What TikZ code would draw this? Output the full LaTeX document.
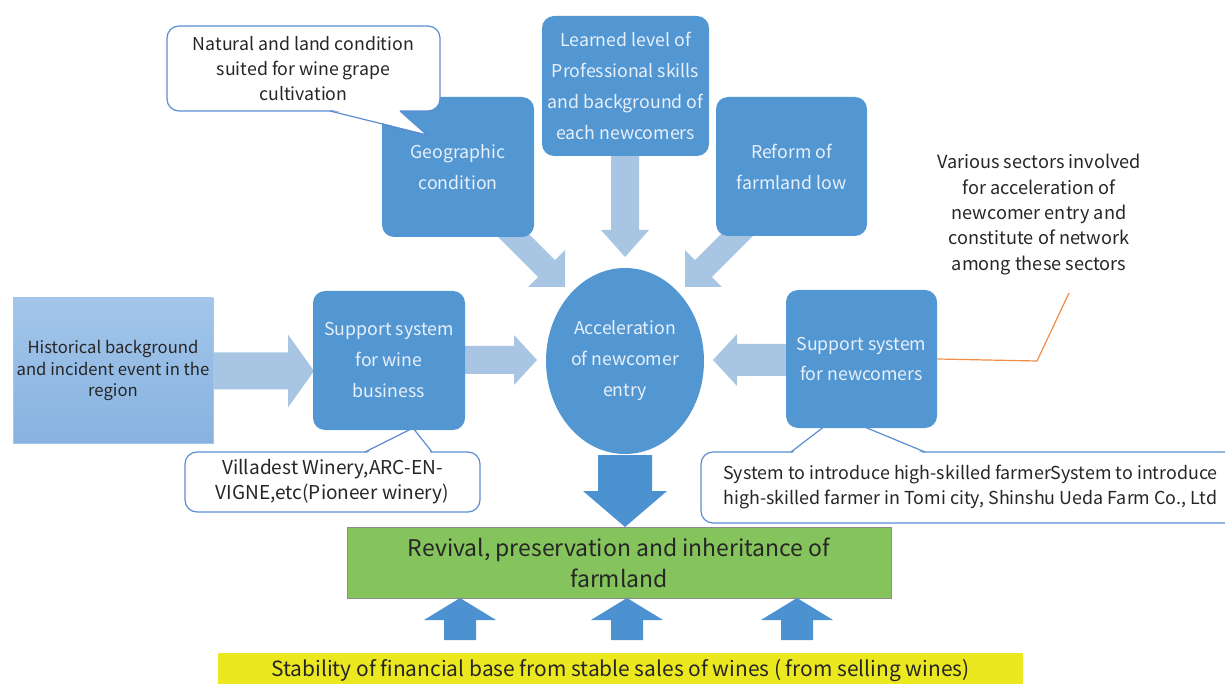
\documentclass[tikz,border=0pt]{standalone}
\usepackage{fontspec}
\setmainfont{Noto Sans CJK JP}
\usetikzlibrary{shapes.geometric}
\definecolor{boxblue}{RGB}{82,150,210}
\definecolor{lightarr}{RGB}{168,198,228}
\definecolor{darkarr}{RGB}{77,146,208}
\definecolor{boxtext}{RGB}{232,240,250}
\definecolor{darktext}{RGB}{38,38,38}
\definecolor{histtop}{RGB}{163,198,234}
\definecolor{histbot}{RGB}{135,178,224}
\definecolor{calloutline}{RGB}{91,140,210}
\definecolor{greenfill}{RGB}{133,195,92}
\definecolor{yellowfill}{RGB}{236,232,32}
\definecolor{orangeline}{RGB}{240,140,70}
% block arrow: #1 style, #2 tip, #3 angle, #4 total length, #5 shaft half, #6 head half, #7 head length
\newcommand{\BArr}[7]{%
  \begin{scope}[shift={#2}, rotate=#3]
    \fill[#1] (0,0) -- (-#7,#6) -- (-#7,#5) -- (-#4,#5) -- (-#4,-#5) -- (-#7,-#5) -- (-#7,-#6) -- cycle;
  \end{scope}}
\begin{document}
\begin{tikzpicture}[x=0.75pt,y=-0.75pt,
  bluebox/.style={fill=boxblue, draw=none, rounded corners=9pt, inner sep=0pt, align=center,
    text=boxtext, font=\fontsize{13.3pt}{23.25pt}\selectfont},
  callout/.style={fill=white, draw=calloutline, line width=0.9pt, rounded corners=9pt, inner sep=0pt,
    align=center, text=darktext},
  cline/.style={draw=calloutline, line width=0.9pt},
  plain/.style={inner sep=0pt, align=center, text=darktext}]
\useasboundingbox (0,0) rectangle (1225,684);

% callouts lying under the boxes
\node[callout, minimum width=221.25pt, minimum height=45pt,
  font=\fontsize{14.3pt}{18.75pt}\selectfont] (villa) at (332.5,482)
  {Villadest Winery,ARC-EN-\\VIGNE,etc(Pioneer winery)};
\fill[white] (366,453.5) -- (413,428) -- (431,453.5) -- cycle;
\draw[cline] (365,452) -- (413,428) -- (432,452);

\node[callout, minimum width=404.25pt, minimum height=53.25pt,
  font=\fontsize{13.4pt}{18.75pt}\selectfont] (intro) at (970.5,487.5)
  {System to introduce high-skilled farmerSystem to introduce\\high-skilled farmer in Tomi city, Shinshu Ueda Farm Co., Ltd};
\fill[white] (792,453.5) -- (838,416) -- (924,453.5) -- cycle;
\draw[cline] (791,452) -- (838,416) -- (925,452);

% light block arrows
\BArr{lightarr}{(314,371)}{0}{120}{18.5}{36.5}{26}
\BArr{lightarr}{(537,360)}{0}{80}{14}{25}{23}
\BArr{lightarr}{(713,360)}{180}{80}{16}{26}{24}
\BArr{lightarr}{(625,257)}{-90}{110}{14}{24}{27}
\BArr{lightarr}{(565,287)}{-45}{90}{12}{26}{26}
\BArr{lightarr}{(685,287)}{-135}{90}{12}{26}{26}

% boxes
\node[bluebox, minimum width=114pt, minimum height=105pt] (geo) at (458,167) {Geographic\\condition};
\node[bluebox, minimum width=125.25pt, minimum height=105pt] (learn) at (625.5,86)
  {Learned level of\\Professional skills\\and background of\\each newcomers};
\node[bluebox, minimum width=113.25pt, minimum height=104.25pt] (reform) at (791.5,166.5) {Reform of\\farmland low};
\node[bluebox, minimum width=114pt, minimum height=104.25pt] (wine) at (389,360.5) {Support system\\for wine\\business};
\node[bluebox, minimum width=113.25pt, minimum height=103.5pt] (newc) at (861.5,359) {Support system\\for newcomers};
\node[top color=histtop, bottom color=histbot, draw=histtop, inner sep=0pt, align=center, text=darktext,
  minimum width=150pt, minimum height=108.75pt, font=\fontsize{12.5pt}{16.1pt}\selectfont] (hist) at (113,370.5)
  {Historical background\\and incident event in the\\region};

% dark arrow down
\BArr{darkarr}{(625,527)}{-90}{72}{27}{42}{36}
\node[ellipse, fill=boxblue, inner sep=0pt, minimum width=118.5pt, minimum height=139.5pt, align=center,
  text=boxtext, font=\fontsize{13.3pt}{23.25pt}\selectfont] (acc) at (625,361)
  {Acceleration\\of newcomer\\entry};

% top-left callout over the geographic box
\node[callout, minimum width=204.75pt, minimum height=63.75pt,
  font=\fontsize{13.3pt}{18.75pt}\selectfont] (nat) at (303.5,68.5)
  {Natural and land condition\\suited for wine grape\\cultivation};
\fill[white] (331,109.5) -- (427,135) -- (399,109.5) -- cycle;
\draw[cline] (330,111) -- (427,135) -- (400,111);

% note with orange leader
\node[plain, font=\fontsize{13.6pt}{19pt}\selectfont] (various) at (1039,214.5)
  {Various sectors involved\\for acceleration of\\newcomer entry and\\constitute of network\\among these sectors};
\coordinate (o1) at (1037,361);
\coordinate (o2) at (1069,293);
\draw[orangeline, line width=0.9pt] (newc.east) -- (o1) -- (o2);

% green result box
\node[fill=greenfill, draw=black!45, line width=0.6pt, inner sep=0pt, align=center, text=darktext,
  minimum width=408pt, minimum height=53.25pt, font=\fontsize{17.2pt}{23.25pt}\selectfont] (farm) at (619,562.5)
  {Revival, preservation and inheritance of\\farmland};

% up arrows
\BArr{darkarr}{(460,598)}{90}{42}{16}{36}{22}
\BArr{darkarr}{(627,598)}{90}{42}{16}{36}{22}
\BArr{darkarr}{(797,598)}{90}{42}{16}{36}{22}

% yellow base
\node[fill=yellowfill, inner sep=0pt, minimum width=603.75pt, minimum height=27pt, text=darktext,
  font=\fontsize{15.7pt}{18pt}\selectfont] (base) at (620.5,671)
  {Stability of financial base from stable sales of wines ( from selling wines)};
\end{tikzpicture}
\end{document}
